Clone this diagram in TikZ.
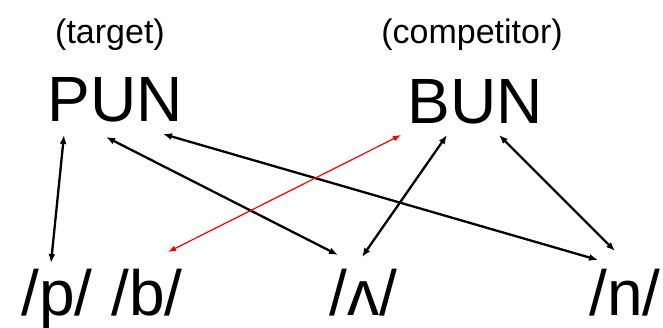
\documentclass[tikz,border=0pt]{standalone}
\usepackage{fontspec}
\setmainfont{Liberation Sans}
\usetikzlibrary{arrows.meta}
\begin{document}
\begin{tikzpicture}[x=1pt,y=1pt,
  word/.style={inner sep=0pt,anchor=base,font=\fontsize{64}{64}\selectfont},
  tag/.style={inner sep=0pt,anchor=base,font=\fontsize{34}{34}\selectfont},
  phon/.style={inner sep=0pt,anchor=base,font=\fontsize{64}{64}\selectfont},
  link/.style={line width=2.3pt,{Latex[length=9pt,width=7pt]}-{Latex[length=9pt,width=7pt]}},
  redlink/.style={line width=1.2pt,red,{Latex[length=8pt,width=6pt]}-{Latex[length=8pt,width=6pt]}}]
\useasboundingbox (0,0) rectangle (663,328);
\node[tag] (tgt) at (110,284) {(target)};
\node[tag] (cmp) at (472,284) {(competitor)};
\node[word] (PUN) at (115,206) {PUN};
\node[word] (BUN) at (475,204) {BUN};
\node[phon] (p) at (57,12) {/p/};
\node[phon] (b) at (147,12) {/b/};
\node[phon] (v) at (363,12) {/ʌ/};
\node[phon] (n) at (625,12) {/n/};
\draw[link] ([xshift=-51pt,yshift=-13pt]PUN.base) -- ([xshift=-6pt,yshift=53pt]p.base);
\draw[link] ([xshift=-9pt,yshift=-15pt]PUN.base) -- ([xshift=-25pt,yshift=61pt]v.base);
\draw[link] ([xshift=48pt,yshift=-12pt]PUN.base) -- ([xshift=-27pt,yshift=56pt]n.base);
\draw[redlink] ([xshift=-74pt,yshift=-11pt]BUN.base) -- ([xshift=21pt,yshift=64pt]b.base);
\draw[link] ([xshift=-28pt,yshift=-11pt]BUN.base) -- ([xshift=-1pt,yshift=59pt]v.base);
\draw[link] ([xshift=24pt,yshift=-11pt]BUN.base) -- ([xshift=-10pt,yshift=65pt]n.base);
\end{tikzpicture}
\end{document}
